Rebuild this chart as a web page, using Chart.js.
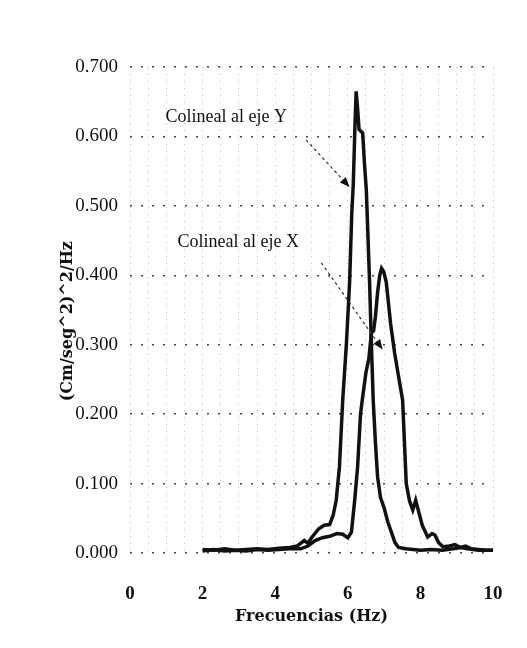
<!DOCTYPE html>
<html>
<head>
<meta charset="utf-8">
<script src="https://cdn.jsdelivr.net/npm/chart.js@4.4.1/dist/chart.umd.min.js"></script>
<style>
  html, body { margin: 0; padding: 0; background: #fff; }
  #wrap { width: 527px; height: 648px; position: relative; }
</style>
</head>
<body>
<div id="wrap"><canvas id="c"></canvas></div>
<script>
// ---- Data ----
const freqEjeY = [2.0, 2.3, 2.6, 2.9, 3.2, 3.5, 3.8, 4.1, 4.4, 4.6, 4.8, 4.9, 5.0, 5.2, 5.35, 5.5, 5.6, 5.68, 5.77, 5.86, 5.96, 6.05, 6.11, 6.15, 6.2, 6.23, 6.27, 6.31, 6.41, 6.46, 6.51, 6.56, 6.6, 6.65, 6.7, 6.76, 6.82, 6.9, 7.0, 7.1, 7.2, 7.3, 7.4, 7.6, 7.8, 8.0, 8.3, 8.6, 8.9, 9.1, 9.3, 9.6, 10.0];
const valEjeY  = [0.005, 0.004, 0.006, 0.004, 0.005, 0.006, 0.005, 0.007, 0.008, 0.010, 0.018, 0.014, 0.022, 0.035, 0.040, 0.041, 0.055, 0.076, 0.124, 0.220, 0.300, 0.390, 0.490, 0.530, 0.620, 0.665, 0.640, 0.610, 0.605, 0.560, 0.523, 0.450, 0.390, 0.300, 0.220, 0.160, 0.110, 0.080, 0.065, 0.045, 0.030, 0.015, 0.008, 0.006, 0.005, 0.004, 0.005, 0.004, 0.006, 0.008, 0.006, 0.004, 0.004];

const freqEjeX = [2.0, 2.3, 2.6, 2.9, 3.2, 3.5, 3.8, 4.1, 4.4, 4.7, 4.9, 5.1, 5.3, 5.5, 5.7, 5.86, 6.0, 6.1, 6.19, 6.27, 6.35, 6.41, 6.5, 6.58, 6.65, 6.71, 6.76, 6.82, 6.88, 6.93, 6.99, 7.06, 7.12, 7.18, 7.29, 7.38, 7.51, 7.56, 7.61, 7.7, 7.79, 7.87, 7.95, 8.05, 8.2, 8.32, 8.4, 8.5, 8.62, 8.8, 8.95, 9.1, 9.25, 9.4, 9.6, 9.8, 10.0];
const valEjeX  = [0.003, 0.005, 0.003, 0.004, 0.003, 0.005, 0.004, 0.005, 0.006, 0.006, 0.010, 0.018, 0.022, 0.024, 0.028, 0.027, 0.022, 0.030, 0.076, 0.124, 0.200, 0.225, 0.260, 0.280, 0.317, 0.320, 0.340, 0.375, 0.400, 0.410, 0.405, 0.390, 0.360, 0.330, 0.288, 0.260, 0.220, 0.160, 0.100, 0.075, 0.062, 0.076, 0.060, 0.040, 0.023, 0.028, 0.026, 0.015, 0.009, 0.010, 0.012, 0.008, 0.010, 0.006, 0.005, 0.004, 0.004];

const yTickValues = [0, 0.1, 0.2, 0.3, 0.4, 0.5, 0.6, 0.7];
const xTickLabels = [0, 2, 4, 6, 8, 10];

// annotation labels and their arrows, in data units
const annotationTexts = ["Colineal al eje Y", "Colineal al eje X"];
const annotationTextPos = [[2.65, 0.627], [2.98, 0.447]];
const annotationArrows = [[4.85, 0.595, 6.05, 0.527], [5.27, 0.418, 6.96, 0.293]];

const SERIF = '"Liberation Serif", "DejaVu Serif", "Times New Roman", serif';
const WIDE_SERIF = '"DejaVu Serif", "Liberation Serif", serif';

function toPts(xs, ys) { return xs.map((x, i) => ({ x: x, y: ys[i] })); }

const annotPlugin = {
  id: 'annot',
  afterDatasetsDraw(chart) {
    const ctx = chart.ctx, sx = chart.scales.x, sy = chart.scales.y;
    ctx.save();
    ctx.fillStyle = '#111';
    ctx.font = '18px ' + SERIF;
    ctx.textAlign = 'center';
    ctx.textBaseline = 'middle';
    annotationTexts.forEach((t, i) => {
      const p = annotationTextPos[i];
      ctx.fillText(t, sx.getPixelForValue(p[0]), sy.getPixelForValue(p[1]));
    });
    annotationArrows.forEach(a => {
      const x1 = sx.getPixelForValue(a[0]), y1 = sy.getPixelForValue(a[1]);
      const x2 = sx.getPixelForValue(a[2]), y2 = sy.getPixelForValue(a[3]);
      const ang = Math.atan2(y2 - y1, x2 - x1);
      ctx.strokeStyle = '#333';
      ctx.lineWidth = 1.2;
      ctx.setLineDash([3, 3]);
      ctx.beginPath();
      ctx.moveTo(x1, y1);
      ctx.lineTo(x2 - 6 * Math.cos(ang), y2 - 6 * Math.sin(ang));
      ctx.stroke();
      ctx.setLineDash([]);
      const L = 10, W = 4;
      ctx.beginPath();
      ctx.moveTo(x2, y2);
      ctx.lineTo(x2 - L * Math.cos(ang) + W * Math.sin(ang), y2 - L * Math.sin(ang) - W * Math.cos(ang));
      ctx.lineTo(x2 - L * Math.cos(ang) - W * Math.sin(ang), y2 - L * Math.sin(ang) + W * Math.cos(ang));
      ctx.closePath();
      ctx.fillStyle = '#111';
      ctx.fill();
    });
    ctx.restore();
  }
};

new Chart(document.getElementById('c'), {
  type: 'line',
  data: {
    datasets: [
      { label: 'Colineal al eje Y', data: toPts(freqEjeY, valEjeY), borderColor: '#111', borderWidth: 3.5, pointRadius: 0, tension: 0, fill: false },
      { label: 'Colineal al eje X', data: toPts(freqEjeX, valEjeX), borderColor: '#111', borderWidth: 3.5, pointRadius: 0, tension: 0, fill: false }
    ]
  },
  options: {
    responsive: true,
    maintainAspectRatio: false,
    animation: false,
    layout: { padding: { left: 0, top: 67, right: 34, bottom: 0 } },
    plugins: { legend: { display: false }, tooltip: { enabled: false } },
    scales: {
      x: {
        type: 'linear', min: 0, max: 10,
        afterBuildTicks(scale) {
          const t = [];
          for (let i = 0; i <= 20; i++) t.push({ value: i * 0.5 });
          scale.ticks = t;
        },
        afterFit(scale) { scale.height = 95; },
        border: { display: false, dash: [1, 6] },
        grid: { color: 'rgba(0,0,0,0.25)', lineWidth: 1, drawTicks: true, tickLength: 28, tickColor: 'rgba(0,0,0,0)' },
        ticks: {
          autoSkip: false, maxRotation: 0, padding: 2, color: '#111',
          font: { family: SERIF, size: 19, weight: 'bold' },
          callback: (v) => (xTickLabels.indexOf(v) >= 0 ? String(v) : '')
        },
        title: { display: true, text: 'Frecuencias (Hz)', color: '#111', font: { family: WIDE_SERIF, size: 16, weight: 'bold' }, padding: { top: 0, bottom: 22 } }
      },
      y: {
        type: 'linear', min: 0, max: 0.7,
        afterBuildTicks(scale) { scale.ticks = yTickValues.map(v => ({ value: v })); },
        afterFit(scale) { scale.width = 130; },
        border: { display: false, dash: [2, 9] },
        grid: { color: '#444', lineWidth: 1.4, drawTicks: false },
        ticks: {
          padding: 12, color: '#111',
          font: { family: SERIF, size: 19 },
          callback: (v) => Number(v).toFixed(3)
        },
        title: { display: true, text: '(Cm/seg^2)^2/Hz\u00A0\u00A0\u00A0\u00A0', color: '#111', font: { family: WIDE_SERIF, size: 16, weight: 'bold' }, padding: { top: 58, bottom: 0 } }
      }
    }
  },
  plugins: [annotPlugin]
});
</script>
</body>
</html>
